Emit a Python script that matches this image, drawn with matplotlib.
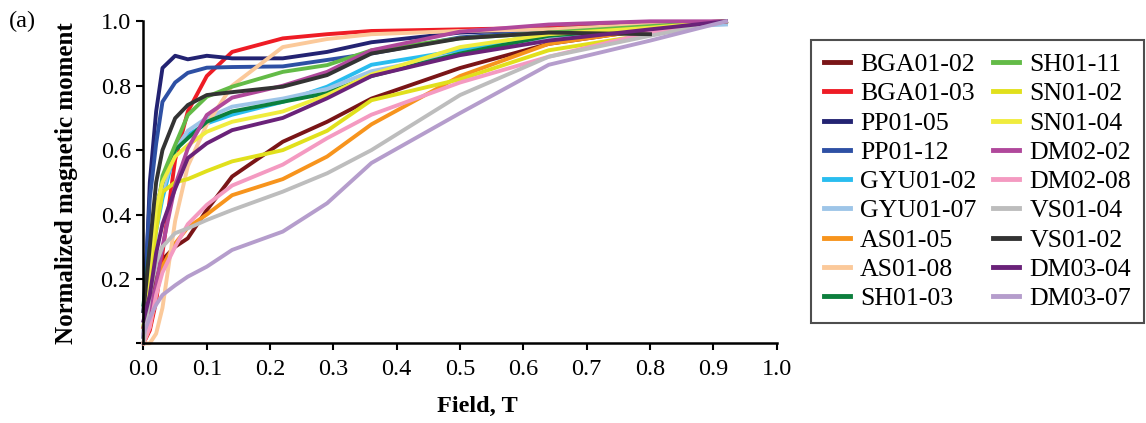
import numpy as np
import matplotlib
matplotlib.use('Agg')
import matplotlib.pyplot as plt

plt.rcParams['font.family'] = ['Liberation Serif', 'DejaVu Serif']

# field values (T), shared by all samples
field = [0, 0.01, 0.02, 0.03, 0.05, 0.07, 0.1, 0.14, 0.22, 0.29, 0.36, 0.5, 0.64, 0.8, 0.92]

names = ['BGA01-02', 'BGA01-03', 'PP01-05', 'PP01-12', 'GYU01-02', 'GYU01-07',
         'AS01-05', 'AS01-08', 'SH01-03', 'SH01-11', 'SN01-02', 'SN01-04',
         'DM02-02', 'DM02-08', 'VS01-04', 'VS01-02', 'DM03-04', 'DM03-07']

colors = ['#7a1517', '#ee1c25', '#232372', '#2e50a4', '#29bdef', '#9ec5e8',
          '#f7941d', '#fbc99a', '#0c7f3d', '#63bb47', '#e1e01c', '#f0ec3e',
          '#b0489b', '#f49ac1', '#bdbdbd', '#333333', '#6a2279', '#b59dcc']

bga01_02 = [0, 0.1, 0.2, 0.26, 0.30, 0.326, 0.414, 0.518, 0.626, 0.688, 0.76, 0.855, 0.93, 0.975, 1.0]
bga01_03 = [0, 0.04, 0.13, 0.28, 0.57, 0.72, 0.83, 0.905, 0.947, 0.96, 0.97, 0.975, 0.98, 0.99, 1.0]
pp01_05 = [0.02, 0.5, 0.72, 0.855, 0.893, 0.882, 0.893, 0.885, 0.885, 0.905, 0.935, 0.965, 0.975, 0.99, 1.0]
pp01_12 = [0.1, 0.45, 0.62, 0.75, 0.81, 0.84, 0.856, 0.858, 0.86, 0.88, 0.90, 0.95, 0.97, 0.985, 1.0]
gyu01_02 = [0.05, 0.2, 0.35, 0.45, 0.6, 0.647, 0.683, 0.71, 0.75, 0.797, 0.865, 0.91, 0.965, 0.985, 0.995]
gyu01_07 = [0.05, 0.22, 0.37, 0.47, 0.6, 0.66, 0.70, 0.735, 0.76, 0.79, 0.845, 0.90, 0.95, 0.98, 0.99]
as01_05 = [0, 0.05, 0.15, 0.24, 0.31, 0.36, 0.40, 0.46, 0.51, 0.58, 0.68, 0.83, 0.93, 0.975, 1.0]
as01_08 = [0, 0.0, 0.03, 0.11, 0.38, 0.55, 0.68, 0.80, 0.92, 0.945, 0.96, 0.97, 0.975, 0.99, 1.0]
sh01_03 = [0.12, 0.3, 0.42, 0.5, 0.6, 0.637, 0.688, 0.72, 0.75, 0.777, 0.83, 0.90, 0.955, 0.98, 1.0]
sh01_11 = [0.05, 0.2, 0.38, 0.52, 0.616, 0.709, 0.766, 0.797, 0.843, 0.864, 0.91, 0.947, 0.965, 0.985, 1.0]
sn01_02 = [0.05, 0.2, 0.35, 0.47, 0.50, 0.51, 0.535, 0.565, 0.60, 0.66, 0.755, 0.82, 0.91, 0.96, 1.0]
sn01_04 = [0.05, 0.25, 0.42, 0.5, 0.58, 0.615, 0.657, 0.688, 0.72, 0.771, 0.835, 0.92, 0.96, 0.98, 1.0]
dm02_02 = [0.05, 0.1, 0.18, 0.3, 0.49, 0.605, 0.709, 0.763, 0.80, 0.843, 0.91, 0.968, 0.99, 1.0, 1.0]
dm02_08 = [0, 0.05, 0.15, 0.22, 0.30, 0.37, 0.43, 0.49, 0.555, 0.637, 0.71, 0.81, 0.89, 0.965, 1.0]
vs01_04 = [0, 0.15, 0.25, 0.30, 0.342, 0.357, 0.383, 0.414, 0.471, 0.528, 0.60, 0.771, 0.89, 0.955, 1.0]
vs01_02 = [0.1, 0.3, 0.5, 0.6, 0.699, 0.74, 0.771, 0.78, 0.797, 0.833, 0.90, 0.947, 0.965, 0.96]
dm03_04 = [0.07, 0.15, 0.28, 0.37, 0.48, 0.575, 0.621, 0.662, 0.70, 0.761, 0.83, 0.895, 0.94, 0.975, 1.0]
dm03_07 = [0.03, 0.08, 0.12, 0.15, 0.18, 0.207, 0.238, 0.29, 0.347, 0.435, 0.56, 0.715, 0.865, 0.94, 1.0]

series = [bga01_02, bga01_03, pp01_05, pp01_12, gyu01_02, gyu01_07, as01_05, as01_08,
          sh01_03, sh01_11, sn01_02, sn01_04, dm02_02, dm02_08, vs01_04, vs01_02,
          dm03_04, dm03_07]

fig = plt.figure(figsize=(11.46, 4.23), dpi=100)
ax = fig.add_axes([0.1252, 0.1884, 0.5525, 0.7612])

for name, col, vals in zip(names, colors, series):
    ax.plot(field[:len(vals)], vals, color=col, lw=2.8, label=name, clip_on=False)

ax.set_xlim(0, 1.0)
ax.set_ylim(0, 1.0)
ax.set_xticks(np.arange(0, 1.01, 0.1))
ax.set_xticklabels(['%.1f' % v for v in np.arange(0, 1.01, 0.1)])
ax.set_yticks([0, 0.2, 0.4, 0.6, 0.8, 1.0])
ax.set_yticklabels(['', '0.2', '0.4', '0.6', '0.8', '1.0'])
ax.tick_params(labelsize=17.5, direction='out', length=5, width=1.5, color='black')
ax.tick_params(axis='x', pad=6)
ax.tick_params(axis='y', pad=4)
for s in ['top', 'right']:
    ax.spines[s].set_visible(False)
for s in ['left', 'bottom']:
    ax.spines[s].set_linewidth(1.8)

ax.set_xlabel('Field, T', fontsize=17.5, fontweight='bold')
ax.xaxis.set_label_coords(0.5275, -0.162)
ax.set_ylabel('Normalized magnetic moment', fontsize=18, fontweight='bold')
ax.yaxis.set_label_coords(-0.104, 0.498)

fig.text(0.008, 0.975, '(a)', fontsize=17.5, va='top', ha='left')

leg = fig.legend(loc='upper left', bbox_to_anchor=(0.7077, 0.9054), ncol=2,
                 fontsize=18.6, frameon=True, fancybox=False, edgecolor='#222222',
                 handlelength=1.0, handletextpad=0.4, columnspacing=0.65,
                 labelspacing=0.24, borderpad=0.5, borderaxespad=0)
leg.get_frame().set_linewidth(1.5)
for line in leg.get_lines():
    line.set_linewidth(3.5)

fig.savefig('out.png', dpi=100)
